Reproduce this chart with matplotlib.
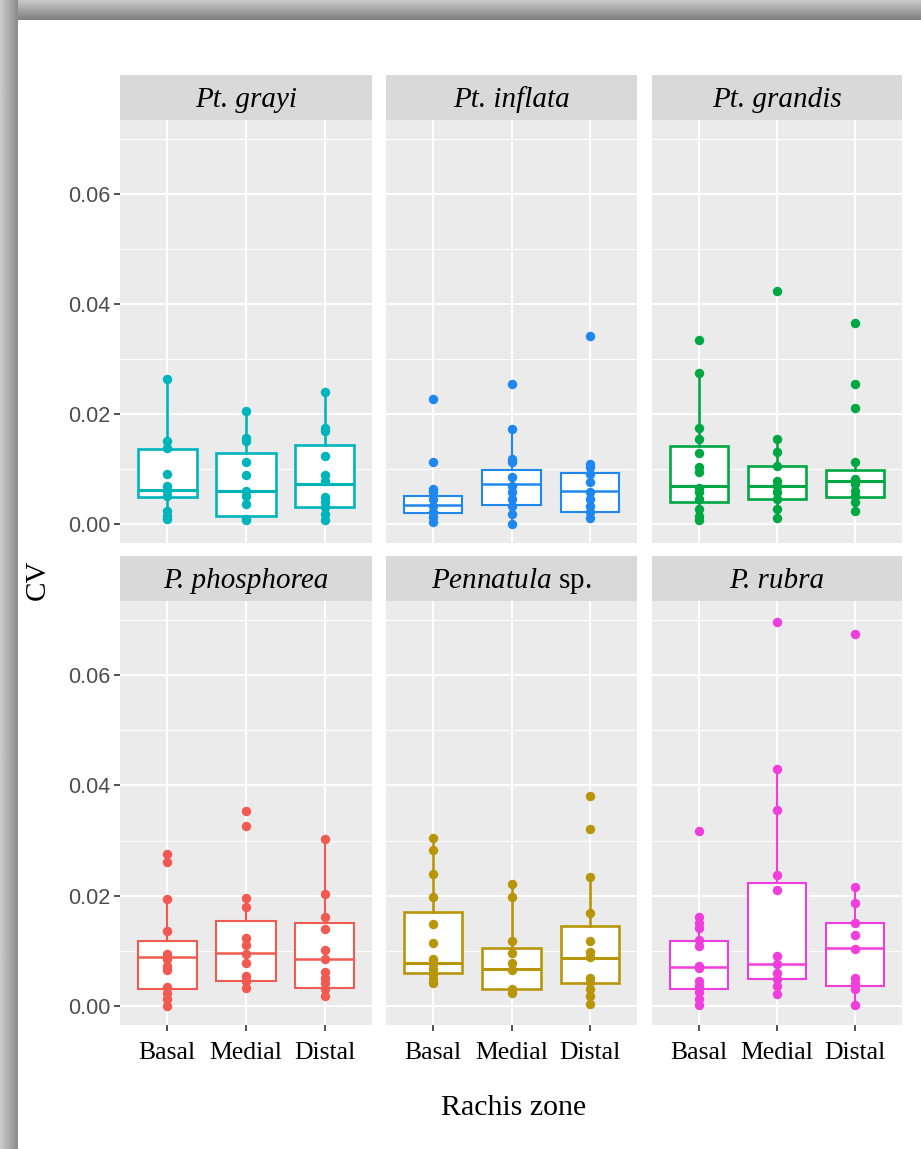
import numpy as np
import matplotlib
matplotlib.use("Agg")
from matplotlib import pyplot as plt
from matplotlib.ticker import MultipleLocator

plt.rcParams["mathtext.fontset"] = "custom"
plt.rcParams["mathtext.it"] = "Liberation Serif:italic"
plt.rcParams["mathtext.rm"] = "Liberation Serif"

species = ["Pt. grayi", "Pt. inflata", "Pt. grandis", "P. phosphorea", "Pennatula", "P. rubra"]
colors = ["#00B4BC", "#1E88F0", "#00A844", "#F05A50", "#B8960A", "#F03EDD"]
zones = ["Basal", "Medial", "Distal"]

# CV values (Basal, Medial, Distal)
pts_grayi = [[0.0263, 0.0151, 0.0138, 0.0091, 0.0069, 0.0060, 0.0051, 0.0024, 0.0015, 0.0009],
             [0.0205, 0.0157, 0.0151, 0.0112, 0.0088, 0.0060, 0.0051, 0.0036, 0.0009, 0.0006],
             [0.0239, 0.0175, 0.0169, 0.0124, 0.0088, 0.0078, 0.0048, 0.0039, 0.0030, 0.0018, 0.0006]]
pts_inflata = [[0.0228, 0.0112, 0.0063, 0.0057, 0.0045, 0.0033, 0.0021, 0.0012, 0.0004],
               [0.0255, 0.0172, 0.0118, 0.0112, 0.0085, 0.0069, 0.0057, 0.0045, 0.0033, 0.0018, 0.0000],
               [0.0341, 0.0109, 0.0103, 0.0091, 0.0076, 0.0057, 0.0045, 0.0033, 0.0021, 0.0010]]
pts_grandis = [[0.0335, 0.0275, 0.0175, 0.0154, 0.0129, 0.0103, 0.0094, 0.0066, 0.0057, 0.0045, 0.0027, 0.0015, 0.0006],
               [0.0423, 0.0155, 0.0131, 0.0105, 0.0078, 0.0069, 0.0057, 0.0045, 0.0027, 0.0010],
               [0.0365, 0.0255, 0.0211, 0.0113, 0.0082, 0.0072, 0.0060, 0.0051, 0.0039, 0.0024]]
pts_phosphorea = [[0.0276, 0.0261, 0.0193, 0.0136, 0.0094, 0.0084, 0.0072, 0.0065, 0.0034, 0.0024, 0.0012, 0.0000],
                  [0.0354, 0.0327, 0.0195, 0.0180, 0.0123, 0.0111, 0.0094, 0.0077, 0.0054, 0.0045, 0.0033],
                  [0.0303, 0.0202, 0.0162, 0.0139, 0.0101, 0.0084, 0.0061, 0.0051, 0.0042, 0.0030, 0.0017]]
pts_pennatula = [[0.0304, 0.0282, 0.0240, 0.0198, 0.0148, 0.0114, 0.0084, 0.0075, 0.0067, 0.0057, 0.0048, 0.0041],
                 [0.0221, 0.0198, 0.0117, 0.0096, 0.0078, 0.0065, 0.0030, 0.0024],
                 [0.0381, 0.0321, 0.0234, 0.0169, 0.0117, 0.0097, 0.0089, 0.0051, 0.0043, 0.0030, 0.0018, 0.0003]]
pts_rubra = [[0.0318, 0.0161, 0.0151, 0.0141, 0.0120, 0.0108, 0.0073, 0.0069, 0.0045, 0.0036, 0.0025, 0.0012, 0.0001],
             [0.0697, 0.0429, 0.0355, 0.0238, 0.0211, 0.0091, 0.0075, 0.0060, 0.0048, 0.0036, 0.0021],
             [0.0675, 0.0216, 0.0187, 0.0151, 0.0129, 0.0103, 0.0051, 0.0042, 0.0031, 0.0001]]
points = [pts_grayi, pts_inflata, pts_grandis, pts_phosphorea, pts_pennatula, pts_rubra]

# box statistics per species (Basal, Medial, Distal)
box_q1 = [[0.0048, 0.0015, 0.0030], [0.0020, 0.0034, 0.0022], [0.0040, 0.0045, 0.0048],
          [0.0030, 0.0045, 0.0033], [0.0060, 0.0030, 0.0041], [0.0031, 0.0048, 0.0036]]
box_med = [[0.0062, 0.0059, 0.0072], [0.0035, 0.0072, 0.0059], [0.0068, 0.0068, 0.0077],
           [0.0089, 0.0096, 0.0084], [0.0077, 0.0066, 0.0086], [0.0070, 0.0076, 0.0105]]
box_q3 = [[0.0137, 0.0128, 0.0143], [0.0051, 0.0097, 0.0092], [0.0141, 0.0105, 0.0097],
          [0.0117, 0.0153, 0.0150], [0.0171, 0.0104, 0.0144], [0.0117, 0.0223, 0.0151]]
whisk_lo = [[0.0009, 0.0006, 0.0006], [0.0004, 0.0000, 0.0010], [0.0006, 0.0010, 0.0024],
            [0.0000, 0.0033, 0.0017], [0.0041, 0.0024, 0.0003], [0.0001, 0.0021, 0.0001]]
whisk_hi = [[0.0263, 0.0205, 0.0239], [0.0063, 0.0172, 0.0109], [0.0275, 0.0155, 0.0113],
            [0.0193, 0.0195, 0.0303], [0.0304, 0.0221, 0.0234], [0.0161, 0.0429, 0.0216]]

W, H = 921, 1149
fig = plt.figure(figsize=(W / 100, H / 100), dpi=100)

def rect(x0, y0, x1, y1):
    return [x0 / W, 1 - y1 / H, (x1 - x0) / W, (y1 - y0) / H]

# grey frame (top and left) like the screenshot
bg = fig.add_axes([0, 0, 1, 1], zorder=-5)
grad = np.linspace(0.78, 0.50, 20).reshape(-1, 1)
bg.imshow(grad, cmap="gray", vmin=0, vmax=1, extent=[0, W, 20, 0], aspect="auto")
gradl = np.linspace(0.80, 0.55, 17).reshape(1, -1)
bg.imshow(gradl, cmap="gray", vmin=0, vmax=1, extent=[0, 17, H, 0], aspect="auto")
bg.set_xlim(0, W)
bg.set_ylim(H, 0)
bg.axis("off")

serif = "Liberation Serif"
sans = "Liberation Sans"
cols = [(120, 372), (386, 637), (652, 902)]
rows = [(120, 543), (601, 1025)]
strips = [(75, 120), (556, 601)]

for i, sp in enumerate(species):
    r, c = divmod(i, 3)
    ax = fig.add_axes(rect(cols[c][0], rows[r][0], cols[c][1], rows[r][1]))
    ax.set_facecolor("#EBEBEB")
    for s in ax.spines.values():
        s.set_visible(False)

    stats = []
    for k in range(3):
        stats.append(dict(q1=box_q1[i][k], med=box_med[i][k], q3=box_q3[i][k],
                          whislo=whisk_lo[i][k], whishi=whisk_hi[i][k], fliers=[]))
    col = colors[i]
    lw = 1.5 if i in (1, 3, 5) else 1.9
    ax.bxp(stats, positions=[1, 2, 3], widths=0.75, showfliers=False, showcaps=False,
           patch_artist=True, manage_ticks=False,
           boxprops=dict(facecolor="white", edgecolor=col, lw=lw),
           medianprops=dict(color=col, lw=lw + 0.3),
           whiskerprops=dict(color=col, lw=lw))
    for k in range(3):
        v = points[i][k]
        ax.plot([k + 1] * len(v), v, "o", color=col, ms=6.8, mew=0, zorder=5)

    ax.set_xlim(0.4, 3.6)
    ax.set_ylim(-0.0035, 0.0735)
    ax.set_yticks([0, 0.02, 0.04, 0.06])
    ax.yaxis.set_minor_locator(MultipleLocator(0.01))
    ax.set_xticks([1, 2, 3])
    ax.grid(True, which="major", color="white", lw=1.4)
    ax.grid(True, which="minor", axis="y", color="white", lw=0.7)
    ax.set_axisbelow(True)
    ax.tick_params(which="minor", length=0)
    ax.tick_params(which="major", length=4, width=1.2, color="#333333", pad=3)

    if c == 0:
        ax.set_yticklabels(["0.00", "0.02", "0.04", "0.06"], fontsize=15.5,
                           family=sans, color="#4D4D4D")
    else:
        ax.tick_params(axis="y", which="major", length=0, labelleft=False)
    if r == 1:
        ax.set_xticklabels(zones, fontsize=18.5, family=serif, color="black")
        ax.tick_params(axis="x", pad=8)
    else:
        ax.tick_params(axis="x", length=0, labelbottom=False)

    st = fig.add_axes(rect(cols[c][0], strips[r][0], cols[c][1], strips[r][1]))
    st.set_facecolor("#D9D9D9")
    st.set_xticks([])
    st.set_yticks([])
    for s in st.spines.values():
        s.set_visible(False)
    if sp == "Pennatula":
        st.text(0.5, 0.45, r"$\mathit{Pennatula}$ sp.", ha="center", va="center",
                fontsize=21, family=serif, transform=st.transAxes)
    else:
        st.text(0.5, 0.45, sp, ha="center", va="center", fontsize=21,
                family=serif, style="italic", transform=st.transAxes)

fig.text(38 / W, 1 - 580 / H, "CV", rotation=90, ha="center", va="center",
         fontsize=21, family=serif)
fig.text(514 / W, 1 - 1108 / H, "Rachis zone", ha="center", va="center",
         fontsize=21.5, family=serif)

fig.savefig("out.png", dpi=100)
